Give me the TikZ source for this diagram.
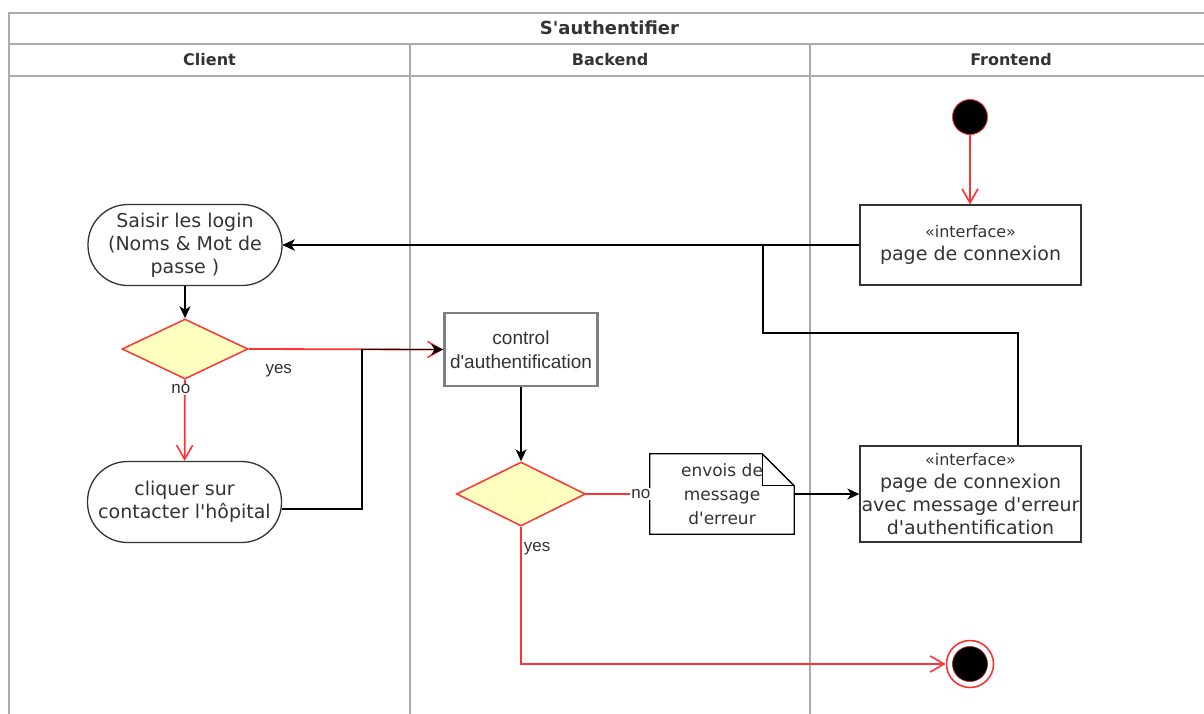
\documentclass[tikz,border=0pt]{standalone}
\usepackage{fontspec}
\setmainfont{DejaVu Sans}[Ligatures=TeXOff]
\newfontfamily\arialfont{Liberation Sans}
\usetikzlibrary{shapes.geometric,arrows.meta,calc}
\definecolor{ink}{HTML}{333333}
\definecolor{laneline}{HTML}{ABABAB}
\definecolor{flowred}{HTML}{FF3333}
\definecolor{decfill}{HTML}{FFFFC0}
\definecolor{ctrlgray}{HTML}{808080}

\begin{document}
\begin{tikzpicture}[x=1pt,y=-1pt,
  lane/.style={draw=laneline, line width=1.6pt},
  titletext/.style={text=ink, font=\bfseries\fontsize{18}{22}\selectfont},
  headtext/.style={text=ink, font=\bfseries\fontsize{16}{20}\selectfont},
  action/.style={draw=ink, line width=1.3pt, rounded corners=40pt,
    minimum width=194pt, minimum height=81pt, align=center, text=ink,
    inner sep=0pt, font=\fontsize{19}{23}\selectfont},
  uibox/.style={draw=ink, line width=1.3pt, minimum width=221pt,
    align=center, text=ink, inner sep=0pt, font=\fontsize{19}{23}\selectfont},
  ctrlbox/.style={draw=ctrlgray, line width=2.8pt, minimum width=153pt,
    minimum height=73pt, align=center, text=ink, inner sep=0pt,
    font=\arialfont\fontsize{19}{24}\selectfont},
  decision/.style={diamond, draw=flowred, fill=decfill, line width=1.5pt,
    inner sep=0pt},
  notetext/.style={align=center, text=ink, inner sep=0pt,
    minimum width=144pt, minimum height=80pt,
    font=\fontsize{17}{24}\selectfont},
  initial/.style={circle, fill=black, draw=flowred, line width=0.8pt,
    minimum size=35pt, inner sep=0pt},
  finalring/.style={circle, draw=flowred, fill=white, line width=1.6pt,
    minimum size=47pt, inner sep=0pt},
  finaldot/.style={circle, fill=black, draw=flowred!60!black, line width=0.6pt,
    minimum size=35pt, inner sep=0pt},
  lbl/.style={text=ink, inner sep=1pt, font=\arialfont\fontsize{17}{20}\selectfont},
  blackflow/.style={draw=black, line width=1.5pt,
    -{Stealth[length=12pt,width=11pt,inset=3.5pt]}},
  redflow/.style={draw=flowred, line width=1.8pt,
    -{Straight Barb[length=14pt,width=16pt,line width=1.6pt]}},
  redline/.style={draw=flowred, line width=1.8pt},
]
\useasboundingbox (0,0) rectangle (1204,713);
\clip (0,0) rectangle (1204,713);

% pool and swimlanes
\draw[lane] (1210,13) -- (9,13) -- (9,720);
\draw[lane] (9,44) -- (1210,44);
\draw[lane] (9,76) -- (1210,76);
\draw[lane] (410,44) -- (410,720);
\draw[lane] (810,44) -- (810,720);

\node[titletext] (title) at (609.5,28) {S'authentifier};
\node[headtext] (hclient) at (209.5,60) {Client};
\node[headtext] (hbackend) at (610,60) {Backend};
\node[headtext] (hfrontend) at (1011,60) {Frontend};

% nodes
\node[initial] (start) at (970,117) {};
\node[uibox, minimum height=80pt] (if1) at (970.5,245)
  {{\fontsize{16}{19}\selectfont «interface»}\\page de connexion};
\node[action] (login) at (185,245) {Saisir les login\\(Noms \& Mot de\\passe )};
\node[decision, minimum width=126pt, minimum height=60pt] (dec1) at (185,349) {};
\node[action] (click) at (184.5,502) {cliquer sur\\contacter l'hôpital};
\node[ctrlbox] (ctrl) at (521,349.5) {control\\d'authentification};
\node[decision, minimum width=129pt, minimum height=64pt] (dec2) at (521,494) {};
\node[notetext] (note) at (722,494) {envois de\\message\\d'erreur};
\draw[draw=black, line width=1.3pt]
  (note.north west) -- ([xshift=-32pt]note.north east)
  -- ([yshift=-32pt]note.north east) -- (note.south east)
  -- (note.south west) -- cycle;
\draw[draw=black, line width=1.3pt]
  ([xshift=-32pt]note.north east) -- ([xshift=-32pt,yshift=-32pt]note.north east)
  -- ([yshift=-32pt]note.north east);
\node[uibox, minimum height=96pt] (if2) at (970.5,494)
  {{\fontsize{16}{19}\selectfont «interface»}\\page de connexion\\avec message d'erreur\\d'authentification};
\node[finalring] (final) at (970,664) {};
\node[finaldot] (finaldot) at (final.center) {};

% routing points
\coordinate (up1) at (1018,333);
\coordinate (up2) at (763,333);
\coordinate (merge) at (362,509);

% connectors
\draw[redflow] (start) -- (start |- if1.north);
\draw[blackflow] (if1.west) -- (login.east);
\draw[blackflow] (if2.north -| up1) -- (up1) -- (up2) -- (up2 |- login.east) -- (login.east);
\draw[blackflow] (login) -- (dec1);
\draw[redflow] (dec1.east) -- (ctrl.west)
  node[lbl, pos=0, xshift=30pt, yshift=-22pt] (yes1) {yes};
\draw[redflow] (dec1) -- (click)
  node[lbl, fill=white, pos=0.12, xshift=-4pt] (no1) {no};
\draw[blackflow] ([yshift=-7pt]click.east) -- (merge) |- (ctrl.west);
\draw[blackflow] (ctrl) -- (dec2);
\draw[redline] (dec2.east) -- (note.west)
  node[lbl, fill=white, pos=0.86] (no2) {no};
\draw[blackflow] (note.east) -- (if2.west);
\draw[redflow] (dec2.south) |- (final.west)
  node[lbl, pos=0.08, anchor=west, xshift=1pt] (yes2) {yes};
\end{tikzpicture}
\end{document}
